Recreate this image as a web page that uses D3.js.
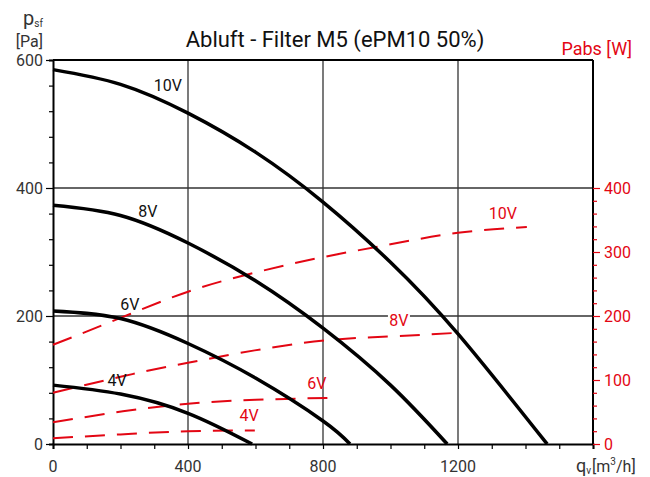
<!DOCTYPE html>
<html>
<head>
<meta charset="utf-8">
<script src="https://cdn.jsdelivr.net/npm/d3@7"></script>
<style>
  body { margin: 0; background: #fff; }
  text { font-family: Roboto, "DejaVu Sans", sans-serif; }
</style>
</head>
<body>
<div id="chart"></div>
<script>
// pressure curves (flow m3/h, pressure Pa)
var flow10 = [0, 200, 400, 600, 800, 1000, 1200, 1464];
var pres10 = [585, 562, 517, 456, 378, 284, 172, 0];
var flow8 = [0, 200, 400, 600, 800, 1000, 1168];
var pres8 = [373, 357, 314, 255, 181, 92, 0];
var flow6 = [0, 200, 400, 600, 800, 880];
var pres6 = [208, 196, 157, 103, 36, 0];
var flow4 = [0, 200, 400, 590];
var pres4 = [92, 78, 48, 0];

// power curves (flow m3/h, W)
var pflow10 = [0, 200, 400, 600, 800, 1000, 1200, 1404];
var pow10 = [155, 197, 238, 268, 292, 312, 330, 339];
var pflow8 = [0, 200, 400, 742, 1000, 1204];
var pow8 = [80, 105, 127, 158, 168, 174];
var pflow6 = [0, 207, 400, 600, 813];
var pow6 = [34, 51, 63, 69, 72];
var pflow4 = [0, 200, 400, 598];
var pow4 = [9, 15, 20, 21];

var xTicks = [0, 400, 800, 1200];
var yTicks = [0, 200, 400, 600];
var rTicks = [0, 100, 200, 300, 400];

var width = 650, height = 477;
var x = d3.scaleLinear().domain([0, 1600]).range([53, 593]);
var y = d3.scaleLinear().domain([0, 600]).range([444, 60]);

var svg = d3.select("#chart").append("svg")
  .attr("width", width)
  .attr("height", height);

// grid
svg.selectAll(".vgrid").data([400, 800, 1200]).enter().append("line")
  .attr("x1", d => x(d)).attr("x2", d => x(d))
  .attr("y1", y(0)).attr("y2", y(600))
  .attr("stroke", "#333").attr("stroke-width", 1.3);
svg.selectAll(".hgrid").data([200, 400]).enter().append("line")
  .attr("x1", x(0)).attr("x2", x(1600))
  .attr("y1", d => y(d)).attr("y2", d => y(d))
  .attr("stroke", "#333").attr("stroke-width", 1.3);

// frame
svg.append("line").attr("x1", x(0)).attr("x2", x(1600)).attr("y1", y(600)).attr("y2", y(600))
  .attr("stroke", "#000").attr("stroke-width", 2);
svg.append("line").attr("x1", x(1600)).attr("x2", x(1600)).attr("y1", y(600)).attr("y2", y(0))
  .attr("stroke", "#000").attr("stroke-width", 2);

// axes
var xAxis = svg.append("g").attr("transform", "translate(0," + y(0) + ")")
  .call(d3.axisBottom(x).tickValues(d3.range(0, 1601, 100)).tickSize(5).tickFormat(""));
xAxis.select(".domain").attr("stroke", "#000").attr("stroke-width", 2);
xAxis.selectAll(".tick line").attr("stroke", "#000").attr("stroke-width", 1.2);
svg.selectAll(".xlab").data(xTicks).enter().append("text")
  .attr("x", d => x(d)).attr("y", 472)
  .attr("text-anchor", "middle").attr("font-size", 16).attr("fill", "#333")
  .text(d => d);

var yAxis = svg.append("g").attr("transform", "translate(" + x(0) + ",0)")
  .call(d3.axisLeft(y).tickValues(d3.range(0, 601, 40)).tickSize(4).tickFormat(""));
yAxis.select(".domain").attr("stroke", "#000").attr("stroke-width", 2);
yAxis.selectAll(".tick line").attr("stroke", "#000").attr("stroke-width", 1.2)
  .attr("x2", d => d % 200 === 0 ? -7 : -4);
svg.selectAll(".ylab").data(yTicks).enter().append("text")
  .attr("x", 43).attr("y", d => y(d) + 6)
  .attr("text-anchor", "end").attr("font-size", 16).attr("fill", "#333")
  .text(d => d);

var rAxis = svg.append("g").attr("transform", "translate(" + x(1600) + ",0)")
  .call(d3.axisRight(y).tickValues(d3.range(0, 401, 20)).tickSize(4).tickFormat(""));
rAxis.select(".domain").remove();
rAxis.selectAll(".tick line").attr("stroke", "#e30613").attr("stroke-width", 1.2)
  .attr("x2", d => d % 100 === 0 ? 7 : 4);
svg.selectAll(".rlab").data(rTicks).enter().append("text")
  .attr("x", 604).attr("y", d => y(d) + 6)
  .attr("font-size", 16).attr("fill", "#e30613")
  .text(d => d);

// axis titles
var pl = svg.append("text").attr("x", 23).attr("y", 25).attr("fill", "#333");
pl.append("tspan").attr("font-size", 20).text("p");
pl.append("tspan").attr("font-size", 10).attr("dy", 2).text("sf");
svg.append("text").attr("x", 43).attr("y", 47).attr("text-anchor", "end")
  .attr("font-size", 16).attr("fill", "#333").text("[Pa]");
svg.append("text").attr("x", 632).attr("y", 55).attr("text-anchor", "end")
  .attr("font-size", 18).attr("fill", "#e30613").text("Pabs [W]");
var ql = svg.append("text").attr("x", 576).attr("y", 472).attr("font-size", 16).attr("fill", "#333");
ql.append("tspan").attr("font-size", 18).text("q");
ql.append("tspan").attr("font-size", 10).attr("dy", 2).text("v");
ql.append("tspan").attr("dy", -2).attr("dx", 1).text("[m");
ql.append("tspan").attr("font-size", 10).attr("dy", -7).text("3");
ql.append("tspan").attr("dy", 7).text("/h]");

// title
svg.append("text").attr("x", 335).attr("y", 47).attr("text-anchor", "middle")
  .attr("font-size", 22).attr("fill", "#111").text("Abluft - Filter M5 (ePM10 50%)");

var line = d3.line().x(d => x(d[0])).y(d => y(d[1])).curve(d3.curveNatural);

// power curves (red dashed)
var powerSets = [[pflow10, pow10], [pflow8, pow8], [pflow6, pow6], [pflow4, pow4]];
powerSets.forEach(function(s) {
  svg.append("path")
    .datum(d3.zip(s[0], s[1]))
    .attr("d", line)
    .attr("fill", "none").attr("stroke", "#e30613")
    .attr("stroke-width", 2).attr("stroke-dasharray", "20,12");
});

// pressure curves (black)
var presSets = [[flow10, pres10], [flow8, pres8], [flow6, pres6], [flow4, pres4]];
presSets.forEach(function(s) {
  svg.append("path")
    .datum(d3.zip(s[0], s[1]))
    .attr("d", line)
    .attr("fill", "none").attr("stroke", "#000").attr("stroke-width", 3.5);
});

// curve labels
var blackLabels = [["10V", 340, 551], ["8V", 281, 355], ["6V", 228, 209], ["4V", 190, 91]];
blackLabels.forEach(function(l) {
  svg.append("text").attr("x", x(l[1])).attr("y", y(l[2]))
    .attr("text-anchor", "middle").attr("font-size", 16).attr("fill", "#111").text(l[0]);
});
var redLabels = [["10V", 1333, 352], ["8V", 1025, 184], ["6V", 782, 86], ["4V", 581, 36]];
redLabels.forEach(function(l) {
  if (l[0] === "8V") {
    svg.append("rect").attr("x", x(l[1]) - 11).attr("y", y(l[2]) - 14)
      .attr("width", 22).attr("height", 16).attr("fill", "#fff");
  }
  svg.append("text").attr("x", x(l[1])).attr("y", y(l[2]))
    .attr("text-anchor", "middle").attr("font-size", 16).attr("fill", "#e30613").text(l[0]);
});
</script>
</body>
</html>
